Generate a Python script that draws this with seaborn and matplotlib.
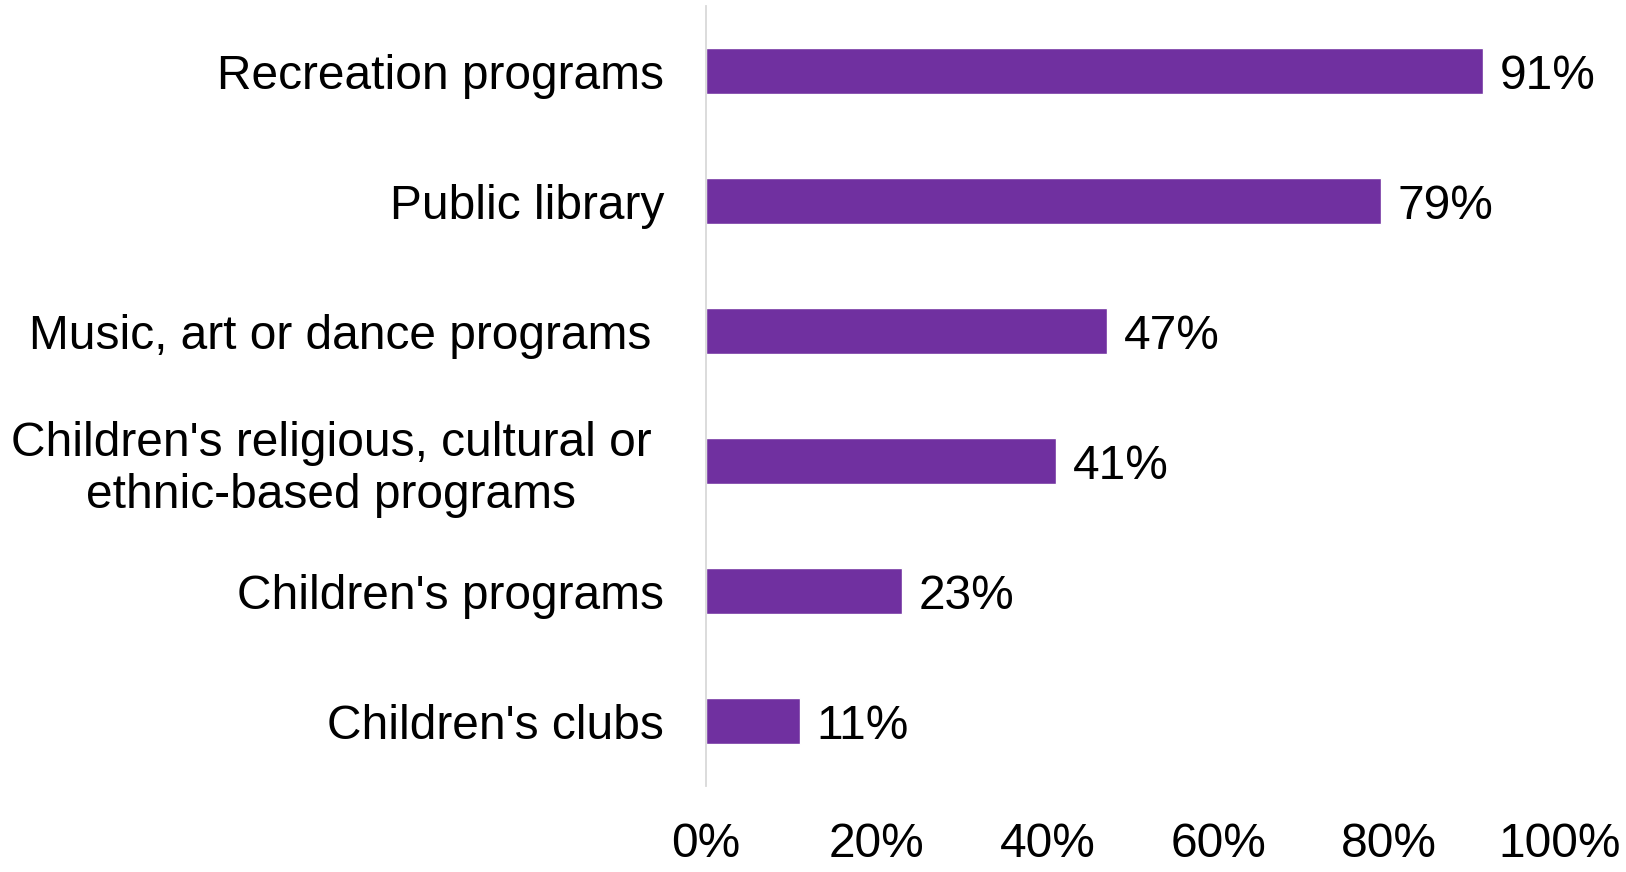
import matplotlib
matplotlib.use("Agg")
import matplotlib.pyplot as plt
import matplotlib.transforms as mtransforms
from matplotlib.ticker import PercentFormatter
import seaborn as sns
import pandas as pd

# data
categories = [
    "Recreation programs",
    "Public library",
    "Music, art or dance programs",
    "Children's religious, cultural or\nethnic-based programs",
    "Children's programs",
    "Children's clubs",
]
values = [91, 79, 47, 41, 23, 11]
x_ticks = [0, 20, 40, 60, 80, 100]

bar_color = "#7030A0"
fs = 34.5

sns.set_style("white")
plt.rcParams["font.family"] = ["Liberation Sans", "DejaVu Sans"]
plt.rcParams["text.color"] = "black"
plt.rcParams["xtick.color"] = "black"
plt.rcParams["ytick.color"] = "black"

df = pd.DataFrame({"category": categories, "value": values})

fig = plt.figure(figsize=(16.26, 8.72), dpi=100)
ax = fig.add_axes([0.4342, 0.0986, 0.5252, 0.8945])

sns.barplot(data=df, x="value", y="category", orient="h", color=bar_color,
            saturation=1, width=0.355, ax=ax)

ax.set_xlim(0, 100)
ax.set_xticks(x_ticks)
ax.xaxis.set_major_formatter(PercentFormatter(decimals=0))
ax.set_xlabel("")
ax.set_ylabel("")

for side in ["top", "right", "bottom"]:
    ax.spines[side].set_visible(False)
ax.spines["left"].set_color("#D9D9D9")
ax.spines["left"].set_linewidth(1.3)

ax.tick_params(axis="x", length=0, pad=26, labelsize=fs, labelcolor="black")
ax.tick_params(axis="y", length=0, pad=30, labelsize=fs, labelcolor="black")

for lab in ax.get_yticklabels():
    lab.set_multialignment("center")
    lab.set_linespacing(1.2)
    if "Music" in lab.get_text() or "religious" in lab.get_text():
        # these two sit slightly further left in the original
        shift = mtransforms.ScaledTranslation(-13 / 100, 0, fig.dpi_scale_trans)
        lab.set_transform(lab.get_transform() + shift)

texts = ax.bar_label(ax.containers[0], labels=[f"{v}%" for v in values],
                     padding=12, fontsize=fs, color="black")
for t in texts:
    # nudge the value labels down a little so they sit centred on the bar
    t.xyann = (12, -4)

fig.savefig("out.png", dpi=100)
